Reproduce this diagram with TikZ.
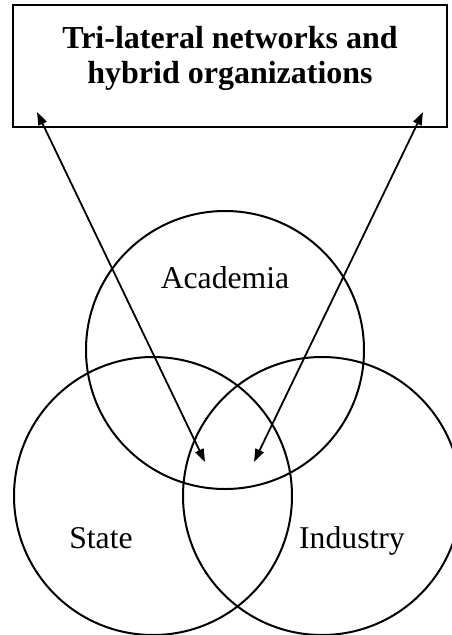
\documentclass[tikz,border=0pt]{standalone}
\usepackage{fontspec}
\setmainfont{Liberation Serif}
\usetikzlibrary{arrows.meta}
\begin{document}
\begin{tikzpicture}[x=1pt,y=-1pt,
  ring/.style={draw,circle,line width=2pt,minimum size=278pt,inner sep=0pt},
  lbl/.style={anchor=base,inner sep=0pt,font=\fontsize{31.7}{35}\selectfont},
  ttl/.style={anchor=base,inner sep=0pt,font=\fontsize{32}{35}\selectfont\bfseries},
  link/.style={line width=1.8pt,{Triangle[length=13pt,width=9pt]}-{Triangle[length=13pt,width=9pt]}}]
\useasboundingbox (0,0) rectangle (451,635);
\node[draw,line width=2.2pt,minimum width=434pt,minimum height=122pt,inner sep=0pt] (box) at (230,66) {};
\node[ttl] (t1) at (230,48) {Tri-lateral networks and};
\node[ttl] (t2) at (230,83) {hybrid organizations};
\node[ring] (acad) at (225,350) {};
\node[ring] (state) at (153,496) {};
\node[ring] (ind) at (322,496) {};
\node[lbl] (la) at (225,288) {Academia};
\node[lbl] (ls) at (101,548) {State};
\node[lbl] (li) at (352,548) {Industry};
\coordinate (bl) at (37,112);
\coordinate (br) at (423,112);
\coordinate (cl) at (205,462);
\coordinate (cr) at (254,462);
\draw[link] (bl) -- (cl);
\draw[link] (br) -- (cr);
\end{tikzpicture}
\end{document}
